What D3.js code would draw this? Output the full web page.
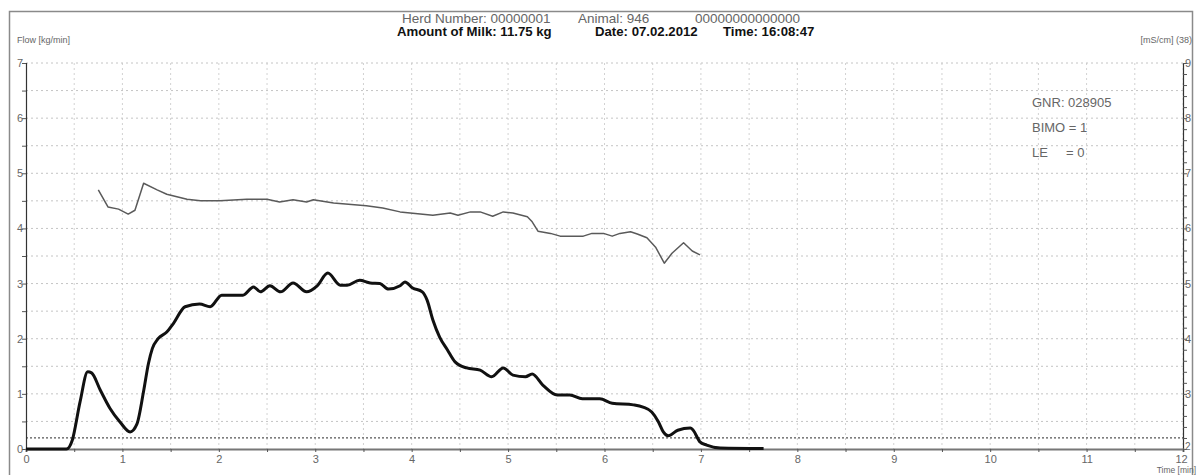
<!DOCTYPE html>
<html><head><meta charset="utf-8">
<script src="https://cdn.jsdelivr.net/npm/d3@7"></script>
<style>body{margin:0;background:#fff}svg{display:block;font-family:Arial,"Liberation Sans",sans-serif}</style>
</head><body><svg id="c" width="1197" height="475"></svg>
<script>
// Flow (kg/min) vs time (min)
const flowT = [0,0.42,0.48,0.56,0.64,0.68,0.77,0.87,0.975,1.08,1.15,1.22,1.27,1.31,1.37,1.46,1.53,1.65,1.80,1.91,2.03,2.25,2.36,2.43,2.53,2.64,2.77,2.91,3.02,3.13,3.26,3.33,3.46,3.57,3.67,3.76,3.88,3.93,4.01,4.11,4.16,4.22,4.29,4.37,4.45,4.57,4.71,4.83,4.95,5.05,5.18,5.25,5.36,5.51,5.64,5.77,5.95,6.08,6.30,6.40,6.49,6.56,6.61,6.66,6.76,6.89,6.92,6.99,7.06,7.20,7.65];
const flowV = [0,0,0.16,0.85,1.40,1.38,1.07,0.74,0.49,0.31,0.45,1.05,1.55,1.82,2.00,2.12,2.28,2.58,2.63,2.58,2.79,2.79,2.94,2.85,2.96,2.85,3.01,2.85,2.96,3.19,2.97,2.97,3.06,3.01,3.00,2.90,2.96,3.03,2.92,2.85,2.70,2.34,2.03,1.80,1.58,1.47,1.43,1.31,1.47,1.34,1.31,1.36,1.16,0.98,0.98,0.91,0.91,0.83,0.80,0.76,0.67,0.49,0.31,0.24,0.34,0.38,0.34,0.13,0.07,0.02,0.01];
// Conductivity (mS/cm) vs time (min)
const condT = [0.75,0.85,0.96,1.06,1.13,1.22,1.36,1.46,1.67,1.81,2.01,2.29,2.50,2.63,2.77,2.91,2.98,3.19,3.53,3.70,3.88,4.22,4.40,4.48,4.61,4.71,4.84,4.95,5.05,5.20,5.25,5.31,5.44,5.54,5.78,5.87,5.99,6.08,6.16,6.27,6.34,6.44,6.53,6.62,6.70,6.82,6.91,6.99];
const condV = [6.70,6.39,6.35,6.26,6.33,6.82,6.70,6.62,6.53,6.50,6.50,6.53,6.53,6.48,6.52,6.48,6.52,6.46,6.41,6.37,6.30,6.24,6.28,6.24,6.30,6.30,6.22,6.30,6.28,6.21,6.12,5.95,5.91,5.86,5.86,5.91,5.91,5.86,5.91,5.94,5.90,5.83,5.66,5.37,5.55,5.74,5.59,5.52];
const xTicks = [0,1,2,3,4,5,6,7,8,9,10,11,12];
const flowTicks = [0,1,2,3,4,5,6,7];
const condTicks = [2,3,4,5,6,7,8,9];
const threshold = 0.2;
const titleLine1 = ["Herd Number: 00000001", "Animal: 946", "00000000000000"];
const titleLine2 = ["Amount of Milk: 11.75 kg", "Date: 07.02.2012", "Time: 16:08:47"];
const infoLines = ["GNR: 028905", "BIMO = 1", "LE     = 0"];

const svg = d3.select("#c");
const x = d3.scaleLinear().domain([0,12]).range([26,1183]);
const y = d3.scaleLinear().domain([0,7]).range([449,63]);
const y2 = d3.scaleLinear().domain([2,9]).range([449,63]);

// frame
svg.append("rect").attr("x",9.5).attr("y",11.5).attr("width",1183).attr("height",470)
  .attr("fill","none").attr("stroke","#8a8a8a").attr("stroke-width",1.5);

// grid
const g = svg.append("g");
d3.range(0.5,12.01,0.5).forEach(t=>{
  g.append("line").attr("x1",x(t)).attr("x2",x(t)).attr("y1",y(7)).attr("y2",y(0))
   .attr("stroke","#d2d2d2").attr("stroke-width",1).attr("stroke-dasharray","2,3");
});
d3.range(0.5,7.01,0.5).forEach(v=>{
  g.append("line").attr("x1",x(0)).attr("x2",x(12)).attr("y1",y(v)).attr("y2",y(v))
   .attr("stroke","#c4c4c4").attr("stroke-width",1).attr("stroke-dasharray","2,3");
});
// threshold line
g.append("line").attr("x1",x(0)).attr("x2",x(12)).attr("y1",y(threshold)).attr("y2",y(threshold))
  .attr("stroke","#555").attr("stroke-width",1.2).attr("stroke-dasharray","2,2");

// axes
const axL = d3.axisLeft(y).tickValues(d3.range(0,7.01,0.5)).tickSize(4)
  .tickFormat(d=>flowTicks.includes(d)?d:"");
const gl = svg.append("g").attr("transform",`translate(${x(0)},0)`).call(axL);
const axR = d3.axisRight(y2).tickValues(d3.range(2,9.01,0.2).map(d=>+d.toFixed(1))).tickSize(4)
  .tickFormat(d=>condTicks.includes(d)?d:"");
const gr = svg.append("g").attr("transform",`translate(${x(12)},0)`).call(axR);
const axB = d3.axisBottom(x).tickValues(d3.range(0,12.01,0.5)).tickSize(3)
  .tickFormat(d=>xTicks.includes(d)?d:"");
const gb = svg.append("g").attr("transform",`translate(0,${y(0)})`).call(axB);
[gl,gr,gb].forEach(a=>{
  a.select(".domain").attr("stroke","#333").attr("stroke-width",1.2);
  a.selectAll(".tick line").attr("stroke","#555");
  a.selectAll("text").attr("fill","#666").attr("font-size",11).attr("font-family","Arial,'Liberation Sans',sans-serif");
});
gl.selectAll("text").attr("x",-3);
gr.selectAll("text").attr("x",2);
gr.selectAll(".tick").filter(d=>d===2).select("text").attr("y",-3).attr("font-size",10);
gb.selectAll("text").attr("y",6).attr("dy","0.71em");
gb.selectAll(".tick").filter(d=>d===12).select("text").attr("x",-2);
gb.select(".domain").attr("stroke","#777").attr("stroke-width",2);

// lines
const lineFlow = d3.line().x((d,i)=>x(flowT[i])).y(d=>y(d)).curve(d3.curveMonotoneX);
svg.append("path").datum(flowV).attr("d",lineFlow).attr("fill","none")
  .attr("stroke","#111").attr("stroke-width",3).attr("stroke-linejoin","round");
const lineCond = d3.line().x((d,i)=>x(condT[i])).y(d=>y2(d));
svg.append("path").datum(condV).attr("d",lineCond).attr("fill","none")
  .attr("stroke","#5a5a5a").attr("stroke-width",1.5).attr("stroke-linejoin","round");

// texts
svg.append("text").attr("x",17).attr("y",43).attr("font-size",9).attr("fill","#666").text("Flow [kg/min]");
svg.append("text").attr("x",1192).attr("y",43).attr("font-size",9).attr("fill","#666").attr("text-anchor","end").text("[mS/cm] (38)");
svg.append("text").attr("x",1196).attr("y",472.5).attr("font-size",8.5).attr("fill","#666").attr("text-anchor","end").text("Time [min]");
const t1x = [402,578,695];
titleLine1.forEach((s,i)=>svg.append("text").attr("x",t1x[i]).attr("y",23).attr("font-size",13.5).attr("fill","#666").text(s));
const t2x = [397,595,723];
titleLine2.forEach((s,i)=>svg.append("text").attr("x",t2x[i]).attr("y",36).attr("font-size",13.2).attr("font-weight","bold").attr("fill","#111").text(s));
infoLines.forEach((s,i)=>svg.append("text").attr("x",1032).attr("y",107+i*25).attr("font-size",13).attr("fill","#666").style("white-space","pre").text(s));
</script></body></html>
